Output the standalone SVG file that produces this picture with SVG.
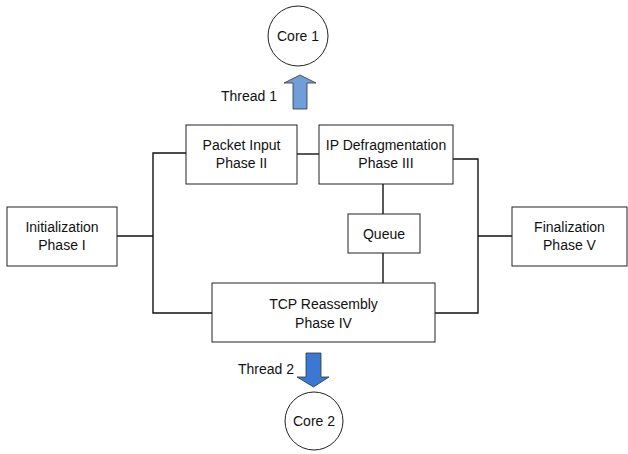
<svg xmlns="http://www.w3.org/2000/svg" width="628" height="454" viewBox="0 0 628 454">
<style>
.box{fill:#fff;stroke:#222;stroke-width:1}
.t{font-family:"Liberation Sans",Arial,sans-serif;font-size:14px;fill:#111;text-anchor:middle;dominant-baseline:central}
.tl{font-family:"Liberation Sans",Arial,sans-serif;font-size:14px;fill:#111;text-anchor:end;dominant-baseline:central}
.c{fill:none;stroke:#111;stroke-width:1.4}
</style>
<rect width="628" height="454" fill="#fff"/>
<g id="connectors">
<polyline class="c" points="186,153 153,153 153,313 212,313"/>
<line class="c" x1="117" y1="236" x2="153" y2="236"/>
<line class="c" x1="297" y1="154" x2="319" y2="154"/>
<polyline class="c" points="453,159 478,159 478,313 435,313"/>
<line class="c" x1="478" y1="236" x2="512" y2="236"/>
<line class="c" x1="383" y1="184" x2="383" y2="214"/>
<line class="c" x1="383" y1="253" x2="383" y2="283"/>
</g>
<g id="core1">
<circle class="box" cx="298" cy="36" r="30"/>
<text class="t" x="298" y="36">Core 1</text>
</g>
<g id="thread1">
<polygon points="293,109 293,83 284,83 300,75 316,83 307,83 307,109" fill="#6f9edb" stroke="#333" stroke-width="0.8"/>
<text class="tl" x="277" y="96">Thread 1</text>
</g>
<g id="packet">
<rect class="box" x="186" y="125" width="111" height="59"/>
<text class="t" x="241.5" y="145">Packet Input</text>
<text class="t" x="241.5" y="163">Phase II</text>
</g>
<g id="ipdefrag">
<rect class="box" x="319" y="125" width="134" height="59"/>
<text class="t" x="386" y="145">IP Defragmentation</text>
<text class="t" x="386" y="163">Phase III</text>
</g>
<g id="init">
<rect class="box" x="7" y="207" width="110" height="59"/>
<text class="t" x="62" y="227">Initialization</text>
<text class="t" x="62" y="245">Phase I</text>
</g>
<g id="queue">
<rect class="box" x="348" y="214" width="72" height="39"/>
<text class="t" x="384" y="233.5">Queue</text>
</g>
<g id="final">
<rect class="box" x="512" y="207" width="115" height="59"/>
<text class="t" x="569.5" y="227">Finalization</text>
<text class="t" x="569.5" y="245">Phase V</text>
</g>
<g id="tcp">
<rect class="box" x="212" y="283" width="223" height="59"/>
<text class="t" x="323.5" y="304">TCP Reassembly</text>
<text class="t" x="323.5" y="323">Phase IV</text>
</g>
<g id="thread2">
<polygon points="306,353 321,353 321,377 329,377 313.5,387 297,377 306,377" fill="#3a78d4" stroke="#333" stroke-width="0.8"/>
<text class="tl" x="294" y="369">Thread 2</text>
</g>
<g id="core2">
<circle class="box" cx="314" cy="421" r="29"/>
<text class="t" x="314" y="421">Core 2</text>
</g>
</svg>
